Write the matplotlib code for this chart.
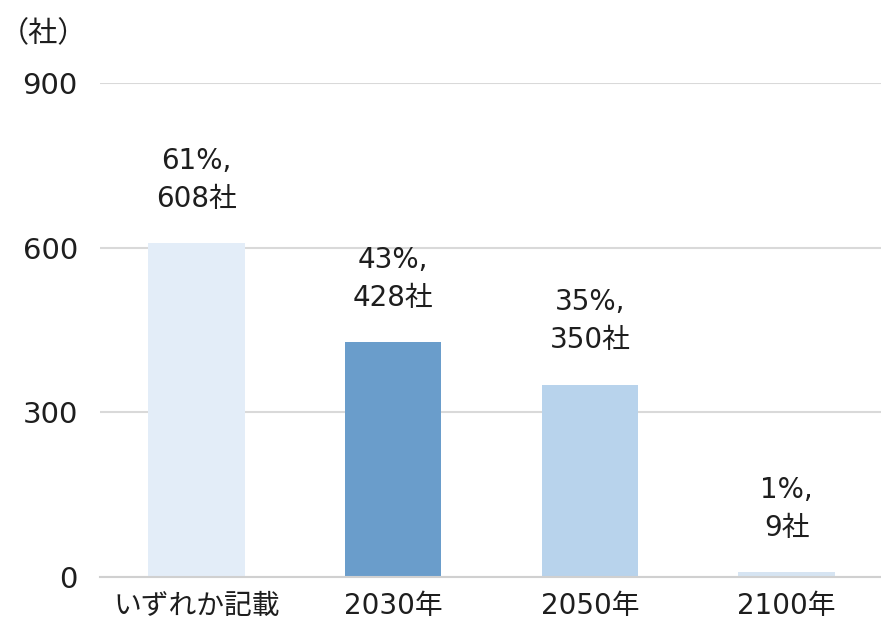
import matplotlib
matplotlib.use('Agg')
import matplotlib.pyplot as plt

plt.rcParams['font.family'] = ['DejaVu Sans', 'Noto Sans CJK JP']

# Data
categories = ['いずれか記載', '2030年', '2050年', '2100年']
counts = [608, 428, 350, 9]
shares = [61, 43, 35, 1]
colors = ['#E3EDF8', '#6A9DCB', '#B8D3EC', '#D6E4F2']
yticks = [0, 300, 600, 900]

fig = plt.figure(figsize=(8.81, 6.22), dpi=100)
ax = fig.add_axes([0.1135, 0.0723, 0.8865, 0.7943])

x = range(len(categories))
bars = ax.bar(x, counts, width=0.49, color=colors, zorder=2)

for xi, c, s in zip(x, counts, shares):
    ax.annotate(f'{s}%,\n{c}社', (xi, c), xytext=(0, 22), textcoords='offset points',
                ha='center', va='bottom', fontsize=20, color='#1e1e1e',
                linespacing=1.45)

ax.set_xlim(-0.49, 3.48)
ax.set_ylim(0, 900)
ax.set_yticks(yticks)
ax.set_yticklabels([str(t) for t in yticks], fontsize=21, color='#1e1e1e')
ax.set_xticks(list(x))
ax.set_xticklabels(categories, fontsize=20, color='#1e1e1e')
ax.tick_params(axis='both', length=0)
ax.tick_params(axis='y', pad=16)
ax.tick_params(axis='x', pad=11)

ax.grid(axis='y', color='#D9D9D9', linewidth=1.5, zorder=0)
for sp in ['top', 'right', 'left']:
    ax.spines[sp].set_visible(False)
ax.spines['bottom'].set_color('#D0D0D0')
ax.spines['bottom'].set_linewidth(1.5)

fig.text(0.0, 0.945, '（社）', fontsize=21, color='#1e1e1e', ha='left', va='center')

fig.savefig('out.png', dpi=100, facecolor='white')
